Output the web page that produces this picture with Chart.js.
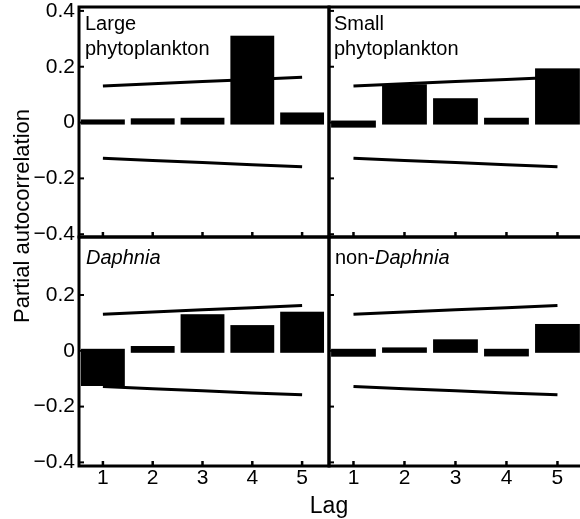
<!DOCTYPE html>
<html lang="en">
<head>
<meta charset="UTF-8">
<title>Partial autocorrelation by lag</title>
<script src="https://cdn.jsdelivr.net/npm/chart.js"></script>
<style>
  html, body { margin: 0; padding: 0; background: #fff; }
  #wrap { position: relative; width: 580px; height: 519px; overflow: hidden;
          font-family: "Liberation Sans", Arial, sans-serif; color: #000; }
  #wrap canvas { position: absolute; }
  .ytitle { position: absolute; left: 22px; top: 216px; font-size: 22px; line-height: 22px;
            white-space: nowrap; transform: translate(-50%, -50%) rotate(-90deg); }
  .xtitle { position: absolute; left: 329px; top: 494px; font-size: 23px; line-height: 23px;
            white-space: nowrap; transform: translateX(-50%); }
</style>
</head>
<body>
<div id="wrap">
  <canvas id="pTL" width="332" height="240" style="left:0;top:0"></canvas>
  <canvas id="pTR" width="259" height="240" style="left:326px;top:0"></canvas>
  <canvas id="pBL" width="332" height="285" style="left:0;top:234px"></canvas>
  <canvas id="pBR" width="259" height="285" style="left:326px;top:234px"></canvas>
  <div class="ytitle">Partial autocorrelation</div>
  <div class="xtitle">Lag</div>
</div>
<script>
// lags and tick labels
const lags = [1, 2, 3, 4, 5];
const xTickLabels = ['1', '2', '3', '4', '5'];
const yTicksTop = [0.4, 0.2, 0, -0.2, -0.4];
const yTickLabelsTop = ['0.4', '0.2', '0', '\u22120.2', '\u22120.4'];
const yTicksBottom = [0.2, 0, -0.2, -0.4];
const yTickLabelsBottom = ['0.2', '0', '\u22120.2', '\u22120.4'];

// partial autocorrelation per lag
const largePhyto = [0.004, 0.008, 0.010, 0.304, 0.029];
const smallPhyto = [-0.011, 0.130, 0.080, 0.010, 0.187];
const daphnia = [-0.119, 0.010, 0.124, 0.085, 0.133];
const nonDaphnia = [-0.014, 0.005, 0.034, -0.013, 0.089];

// confidence limits
const ciUpper = [0.131, 0.139, 0.147, 0.154, 0.162];
const ciLower = [-0.128, -0.136, -0.143, -0.151, -0.158];

// panel titles, *...* = italic
const titleLarge = ['Large', 'phytoplankton'];
const titleSmall = ['Small', 'phytoplankton'];
const titleDaphnia = ['*Daphnia*'];
const titleNonDaphnia = ['non-*Daphnia*'];

const FONT = '"Liberation Sans", Arial, sans-serif';

function pts(vals) {
  return lags.map((l, i) => ({ x: l, y: vals[i] }));
}

function drawRich(ctx, text, x, y) {
  const parts = text.split('*');
  parts.forEach((p, i) => {
    if (!p) return;
    ctx.font = (i % 2 ? 'italic ' : '') + '20px ' + FONT;
    ctx.fillText(p, x, y);
    x += ctx.measureText(p).width;
  });
}

const panelDecor = {
  id: 'panelDecor',
  afterDatasetsDraw(chart, args, opts) {
    const ctx = chart.ctx;
    const a = chart.chartArea;
    const xs = chart.scales.x, ys = chart.scales.y;
    ctx.save();
    ctx.strokeStyle = '#000';
    ctx.fillStyle = '#000';

    // thick outline round the bars, as in the print
    const meta = chart.getDatasetMeta(2);
    ctx.lineWidth = 4;
    ctx.lineJoin = 'miter';
    meta.data.forEach(el => {
      const p = el.getProps(['x', 'y', 'base', 'width'], true);
      ctx.strokeRect(p.x - p.width / 2, Math.min(p.y, p.base), p.width, Math.abs(p.base - p.y));
    });

    // frame
    ctx.lineWidth = 3;
    ctx.strokeRect(a.left, a.top, a.right - a.left, a.bottom - a.top);

    // inward ticks
    ctx.lineWidth = 2;
    opts.yTicks.forEach(v => {
      const py = ys.getPixelForValue(v);
      ctx.beginPath(); ctx.moveTo(a.left, py); ctx.lineTo(a.left + 5, py); ctx.stroke();
    });
    ctx.lineWidth = 2.5;
    lags.forEach(v => {
      const px = xs.getPixelForValue(v);
      ctx.beginPath(); ctx.moveTo(px, a.bottom); ctx.lineTo(px, a.bottom - 5); ctx.stroke();
    });

    // panel title
    ctx.textBaseline = 'alphabetic';
    ctx.textAlign = 'left';
    opts.title.forEach((line, i) => {
      drawRich(ctx, line, a.left + opts.tx, a.top + opts.ty + i * 25);
    });
    ctx.restore();
  }
};

function makePanel(id, values, o) {
  new Chart(document.getElementById(id), {
    type: 'bar',
    data: {
      datasets: [
        { type: 'line', data: pts(ciUpper), borderColor: '#000', borderWidth: 3,
          pointRadius: 0, tension: 0, fill: false },
        { type: 'line', data: pts(ciLower), borderColor: '#000', borderWidth: 3,
          pointRadius: 0, tension: 0, fill: false },
        { type: 'bar', data: pts(values), backgroundColor: '#000', borderWidth: 0,
          barPercentage: 0.8, categoryPercentage: 1 }
      ]
    },
    options: {
      responsive: false,
      maintainAspectRatio: false,
      animation: false,
      events: [],
      layout: { padding: o.pad },
      plugins: {
        legend: { display: false },
        tooltip: { enabled: false },
        panelDecor: { title: o.title, tx: o.tx, ty: o.ty, yTicks: o.yTicks }
      },
      scales: {
        x: {
          type: 'linear', min: 0.52, max: 5.54, offset: false,
          display: o.showX,
          afterBuildTicks: ax => { ax.ticks = lags.map(v => ({ value: v })); },
          afterFit: ax => {
            ax.height = o.showX ? 53 : 0;
            ax.paddingLeft = 0; ax.paddingRight = 0;
            ax.paddingTop = 0; ax.paddingBottom = 0;
          },
          grid: { display: false, drawTicks: false },
          border: { display: false },
          ticks: {
            padding: 0, color: '#000', autoSkip: false, maxRotation: 0,
            font: { size: 21, family: FONT },
            callback: v => xTickLabels[lags.indexOf(v)]
          }
        },
        y: {
          type: 'linear', min: o.yMin, max: o.yMax,
          display: o.showY,
          afterBuildTicks: ax => { ax.ticks = o.yTicks.map(v => ({ value: v })); },
          afterFit: ax => {
            ax.width = o.showY ? 79 : 0;
            ax.paddingLeft = 0; ax.paddingRight = 0;
            ax.paddingTop = 0; ax.paddingBottom = 0;
          },
          grid: { display: false, drawTicks: false },
          border: { display: false },
          ticks: {
            padding: 4, color: '#000', autoSkip: false,
            font: { size: 21, family: FONT },
            callback: v => o.yLabels[o.yTicks.indexOf(v)]
          }
        }
      }
    },
    plugins: [panelDecor]
  });
}

makePanel('pTL', largePhyto, {
  pad: { top: 7, right: 3, bottom: 3, left: 0 }, showX: false, showY: true,
  yMin: -0.41, yMax: 0.414, yTicks: yTicksTop, yLabels: yTickLabelsTop,
  title: titleLarge, tx: 6, ty: 23
});
makePanel('pTR', smallPhyto, {
  pad: { top: 7, right: 0, bottom: 3, left: 3 }, showX: false, showY: false,
  yMin: -0.41, yMax: 0.414, yTicks: yTicksTop, yLabels: yTickLabelsTop,
  title: titleSmall, tx: 5, ty: 23
});
makePanel('pBL', daphnia, {
  pad: { top: 3, right: 3, bottom: 0, left: 0 }, showX: true, showY: true,
  yMin: -0.413, yMax: 0.408, yTicks: yTicksBottom, yLabels: yTickLabelsBottom,
  title: titleDaphnia, tx: 7, ty: 27
});
makePanel('pBR', nonDaphnia, {
  pad: { top: 3, right: 0, bottom: 0, left: 3 }, showX: true, showY: false,
  yMin: -0.413, yMax: 0.408, yTicks: yTicksBottom, yLabels: yTickLabelsBottom,
  title: titleNonDaphnia, tx: 6, ty: 27
});
</script>
</body>
</html>
